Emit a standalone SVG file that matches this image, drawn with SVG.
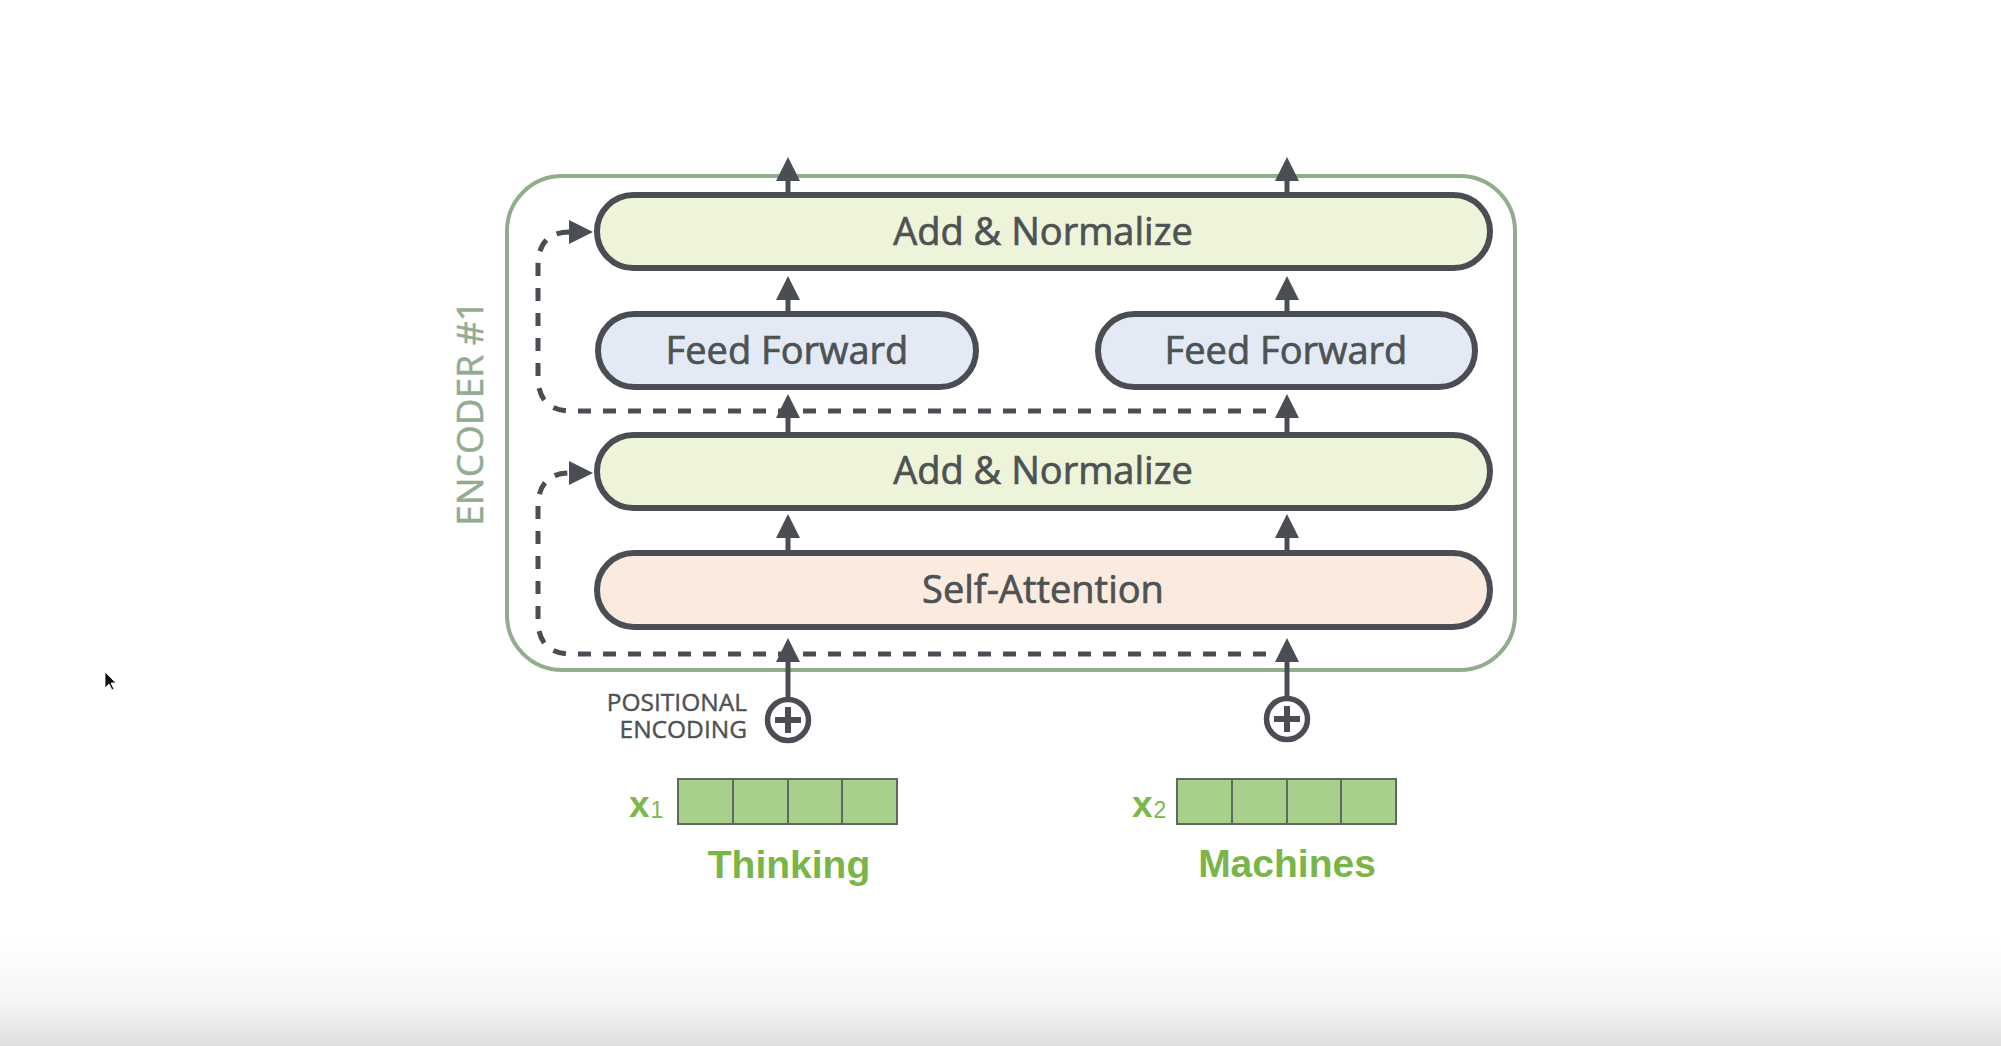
<svg xmlns="http://www.w3.org/2000/svg" width="2001" height="1046" viewBox="0 0 2001 1046">
  <defs>
    <linearGradient id="bg" x1="0" y1="0" x2="0" y2="1046" gradientUnits="userSpaceOnUse">
      <stop offset="0" stop-color="#ffffff"/>
      <stop offset="0.9" stop-color="#ffffff"/>
      <stop offset="0.96" stop-color="#f5f5f5"/>
      <stop offset="1" stop-color="#dedede"/>
    </linearGradient>
    <marker id="arr" markerUnits="userSpaceOnUse" markerWidth="26" markerHeight="26" viewBox="0 0 26 26" refX="1" refY="13" orient="auto">
      <path d="M0,1 L24,13 L0,25 z" fill="#4a4d54"/>
    </marker>
    <style>
      .box { stroke: #4a4d54; stroke-width: 6; }
      .an { fill: #eef4d9; }
      .ff { fill: #e3eaf6; }
      .sa { fill: #fbebdf; }
      .lbl { font-family: "Open Sans", "Noto Sans", sans-serif; font-size: 38px; fill: #4d5253; stroke: #4d5253; stroke-width: 0.7; text-anchor: middle; }
      .flow { fill: none; stroke: #4a4d54; stroke-width: 5; marker-end: url(#arr); }
      .dash { fill: none; stroke: #4a4d54; stroke-width: 5; stroke-dasharray: 13 12; marker-end: url(#arr); }
      .cell { fill: #a9cf8d; stroke: #5d6a5d; stroke-width: 2; }
      .word { font-family: "Liberation Sans", Arial, sans-serif; font-weight: bold; font-size: 39px; fill: #79b548; text-anchor: middle; }
      .xl { font-family: "Liberation Sans", Arial, sans-serif; fill: #7db84c; }
      .pe { fill: #ffffff; stroke: #4a4d54; stroke-width: 5.5; }
      .plus { stroke: #4a4d54; stroke-width: 6; }
      .pos { font-family: "Open Sans", "Noto Sans", sans-serif; font-size: 24.5px; fill: #4d5253; stroke: #4d5253; stroke-width: 0.4; text-anchor: end; }
    </style>
  </defs>
  <rect x="0" y="0" width="2001" height="1046" fill="url(#bg)"/>

  <g id="encoder">
    <rect x="507" y="176" width="1008" height="494" rx="55" ry="55" fill="none" stroke="#91ad8c" stroke-width="4"/>
    <text x="483" y="413" transform="rotate(-90 483 413)" font-family="Open Sans, Noto Sans, sans-serif" font-size="37" fill="#93ab90" stroke="#93ab90" stroke-width="0.5" text-anchor="middle">ENCODER #1</text>
  </g>

  <g id="add-normalize-2">
    <rect class="box an" x="597" y="195" width="893" height="73" rx="36.5"/>
    <text class="lbl" x="1043" y="245">Add &amp; Normalize</text>
  </g>
  <g id="feed-forward-1">
    <rect class="box ff" x="598" y="314" width="378" height="73" rx="36.5"/>
    <text class="lbl" x="787" y="364">Feed Forward</text>
  </g>
  <g id="feed-forward-2">
    <rect class="box ff" x="1098" y="314" width="377" height="73" rx="36.5"/>
    <text class="lbl" x="1286" y="364">Feed Forward</text>
  </g>
  <g id="add-normalize-1">
    <rect class="box an" x="597" y="435" width="893" height="73" rx="36.5"/>
    <text class="lbl" x="1043" y="484">Add &amp; Normalize</text>
  </g>
  <g id="self-attention">
    <rect class="box sa" x="597" y="553" width="893" height="74" rx="37"/>
    <text class="lbl" x="1043" y="603">Self-Attention</text>
  </g>

  <g id="connectors">
    <path class="dash" d="M1266 654 H572 Q538 654 538 620 V507 Q538 473 570 473"/>
    <path class="dash" d="M1266 411 H572 Q538 411 538 377 V266 Q538 232 570 232"/>
    <path class="flow" d="M788 195 V180"/>
    <path class="flow" d="M788 314 V299"/>
    <path class="flow" d="M788 435 V417"/>
    <path class="flow" d="M788 553 V537"/>
    <path class="flow" d="M788 698 V661"/>
    <path class="flow" d="M1287 195 V180"/>
    <path class="flow" d="M1287 314 V299"/>
    <path class="flow" d="M1287 435 V417"/>
    <path class="flow" d="M1287 553 V537"/>
    <path class="flow" d="M1287 697 V661"/>
  </g>

  <g id="positional-encoding-1">
    <circle class="pe" cx="788" cy="720" r="20.5"/>
    <path class="plus" d="M775 720 H801 M788 707 V733"/>
    <text class="pos" x="747" y="711">POSITIONAL</text>
    <text class="pos" x="747" y="738">ENCODING</text>
  </g>
  <g id="positional-encoding-2">
    <circle class="pe" cx="1287" cy="719" r="20.5"/>
    <path class="plus" d="M1274 719 H1300 M1287 706 V732"/>
  </g>

  <g id="x1-thinking">
    <rect class="cell" x="678" y="779" width="55" height="45"/>
    <rect class="cell" x="733" y="779" width="55" height="45"/>
    <rect class="cell" x="788" y="779" width="54" height="45"/>
    <rect class="cell" x="842" y="779" width="55" height="45"/>
    <text class="xl" x="629" y="817"><tspan font-size="37" font-weight="bold">x</tspan><tspan font-size="23" dx="1" dy="1">1</tspan></text>
    <text class="word" x="789" y="878">Thinking</text>
  </g>
  <g id="x2-machines">
    <rect class="cell" x="1177" y="779" width="55" height="45"/>
    <rect class="cell" x="1232" y="779" width="55" height="45"/>
    <rect class="cell" x="1287" y="779" width="54" height="45"/>
    <rect class="cell" x="1341" y="779" width="55" height="45"/>
    <text class="xl" x="1132" y="817"><tspan font-size="37" font-weight="bold">x</tspan><tspan font-size="23" dx="1" dy="1">2</tspan></text>
    <text class="word" x="1287" y="877">Machines</text>
  </g>

  <g id="cursor">
    <path d="M105 672 L105 688 L109 684 L112 690 L114 689 L111 683 L116 683 Z" fill="#111111" stroke="#ffffff" stroke-width="0.8"/>
  </g>
</svg>
